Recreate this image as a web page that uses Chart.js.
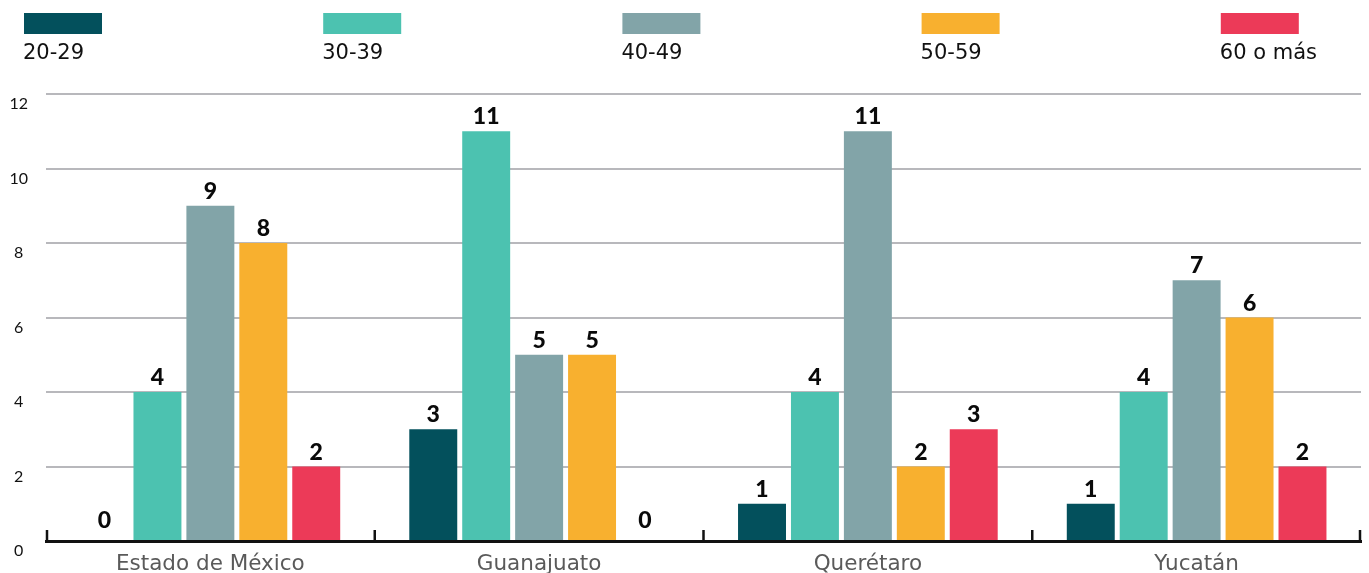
<!DOCTYPE html>
<html>
<head>
<meta charset="utf-8">
<script src="https://cdn.jsdelivr.net/npm/chart.js@4/dist/chart.umd.min.js"></script>
<style>
  html, body { margin: 0; padding: 0; background: #ffffff; }
  #wrap { width: 1369px; height: 573px; position: relative; }
</style>
</head>
<body>
<div id="wrap"><canvas id="c"></canvas></div>
<script>
// Categories (states) and age-group series
const categories = ['Estado de México', 'Guanajuato', 'Querétaro', 'Yucatán'];
const seriesNames = ['20-29', '30-39', '40-49', '50-59', '60 o más'];
const age20to29 = [0, 3, 1, 1];
const age30to39 = [4, 11, 4, 4];
const age40to49 = [9, 5, 11, 7];
const age50to59 = [8, 5, 2, 6];
const age60plus = [2, 0, 3, 2];
const seriesColors = ['#03505c', '#4cc2b0', '#82a4a8', '#f8b02f', '#ec3a58'];
const yMax = 12;
const yStep = 2;

const seriesValues = [age20to29, age30to39, age40to49, age50to59, age60plus];
const TEXT_FONT = '"DejaVu Sans", "Noto Sans", sans-serif';
const NUM_FONT = 'Lato, "Noto Sans", sans-serif';

// Legend drawn on the canvas: swatch on top, label underneath
const topLegend = {
  id: 'topLegend',
  afterDraw(chart) {
    const ctx = chart.ctx;
    ctx.save();
    chart.data.datasets.forEach((ds, i) => {
      const x = 24 + i * 299.2;
      ctx.fillStyle = ds.backgroundColor;
      ctx.fillRect(x, 13, 78, 21);
      ctx.fillStyle = '#111111';
      ctx.font = '400 21px ' + TEXT_FONT;
      ctx.textAlign = 'left';
      ctx.textBaseline = 'alphabetic';
      ctx.fillText(ds.label, x - 1, 59);
    });
    ctx.restore();
  }
};

// Value labels above each bar
const valueLabels = {
  id: 'valueLabels',
  afterDatasetsDraw(chart) {
    const ctx = chart.ctx;
    ctx.save();
    ctx.font = '900 23px ' + NUM_FONT;
    ctx.fillStyle = '#0a0a0a';
    ctx.textAlign = 'center';
    ctx.textBaseline = 'alphabetic';
    chart.data.datasets.forEach((ds, di) => {
      const meta = chart.getDatasetMeta(di);
      meta.data.forEach((bar, i) => {
        const v = ds.data[i];
        const gap = v === 0 ? 13 : 7;
        ctx.fillText(String(v), bar.x, bar.y - gap);
      });
    });
    ctx.restore();
  }
};

// Short upward ticks on the category axis at group boundaries
const groupTicks = {
  id: 'groupTicks',
  afterDatasetsDraw(chart) {
    const { ctx, chartArea, scales } = chart;
    const xs = scales.x;
    const n = chart.data.labels.length;
    const w = (chartArea.right - chartArea.left) / n;
    ctx.save();
    ctx.strokeStyle = '#111111';
    ctx.lineWidth = 2.5;
    for (let i = 0; i <= n; i++) {
      const x = i === 0 ? chartArea.left + 1 : (i === n ? chartArea.right - 1 : xs.getPixelForValue(i) - w / 2);
      ctx.beginPath();
      ctx.moveTo(x, chartArea.bottom);
      ctx.lineTo(x, chartArea.bottom - 11);
      ctx.stroke();
    }
    ctx.restore();
  }
};

new Chart(document.getElementById('c'), {
  type: 'bar',
  data: {
    labels: categories,
    datasets: seriesNames.map((name, i) => ({
      label: name,
      data: seriesValues[i],
      backgroundColor: seriesColors[i],
      borderWidth: 0,
      categoryPercentage: 0.805,
      barPercentage: 0.906
    }))
  },
  options: {
    responsive: true,
    maintainAspectRatio: false,
    animation: false,
    layout: { padding: { top: 94, right: 8, bottom: 0, left: 0 } },
    plugins: {
      legend: { display: false },
      tooltip: { enabled: false }
    },
    scales: {
      x: {
        grid: { display: false },
        border: { display: true, color: '#111111', width: 3 },
        ticks: {
          color: '#5a5a5a',
          font: { family: TEXT_FONT, size: 21.5 },
          padding: 3,
          maxRotation: 0
        },
        afterFit(scale) { scale.height = 32; }
      },
      y: {
        min: 0,
        max: yMax,
        ticks: {
          stepSize: yStep,
          color: '#111111',
          font: { family: NUM_FONT, size: 16 },
          crossAlign: 'center',
          padding: 18,
          labelOffset: 10
        },
        grid: { color: '#b8b8bc', lineWidth: 2, drawTicks: false },
        border: { display: false },
        afterFit(scale) { scale.width = 46; }
      }
    }
  },
  plugins: [topLegend, valueLabels, groupTicks]
});
</script>
</body>
</html>
